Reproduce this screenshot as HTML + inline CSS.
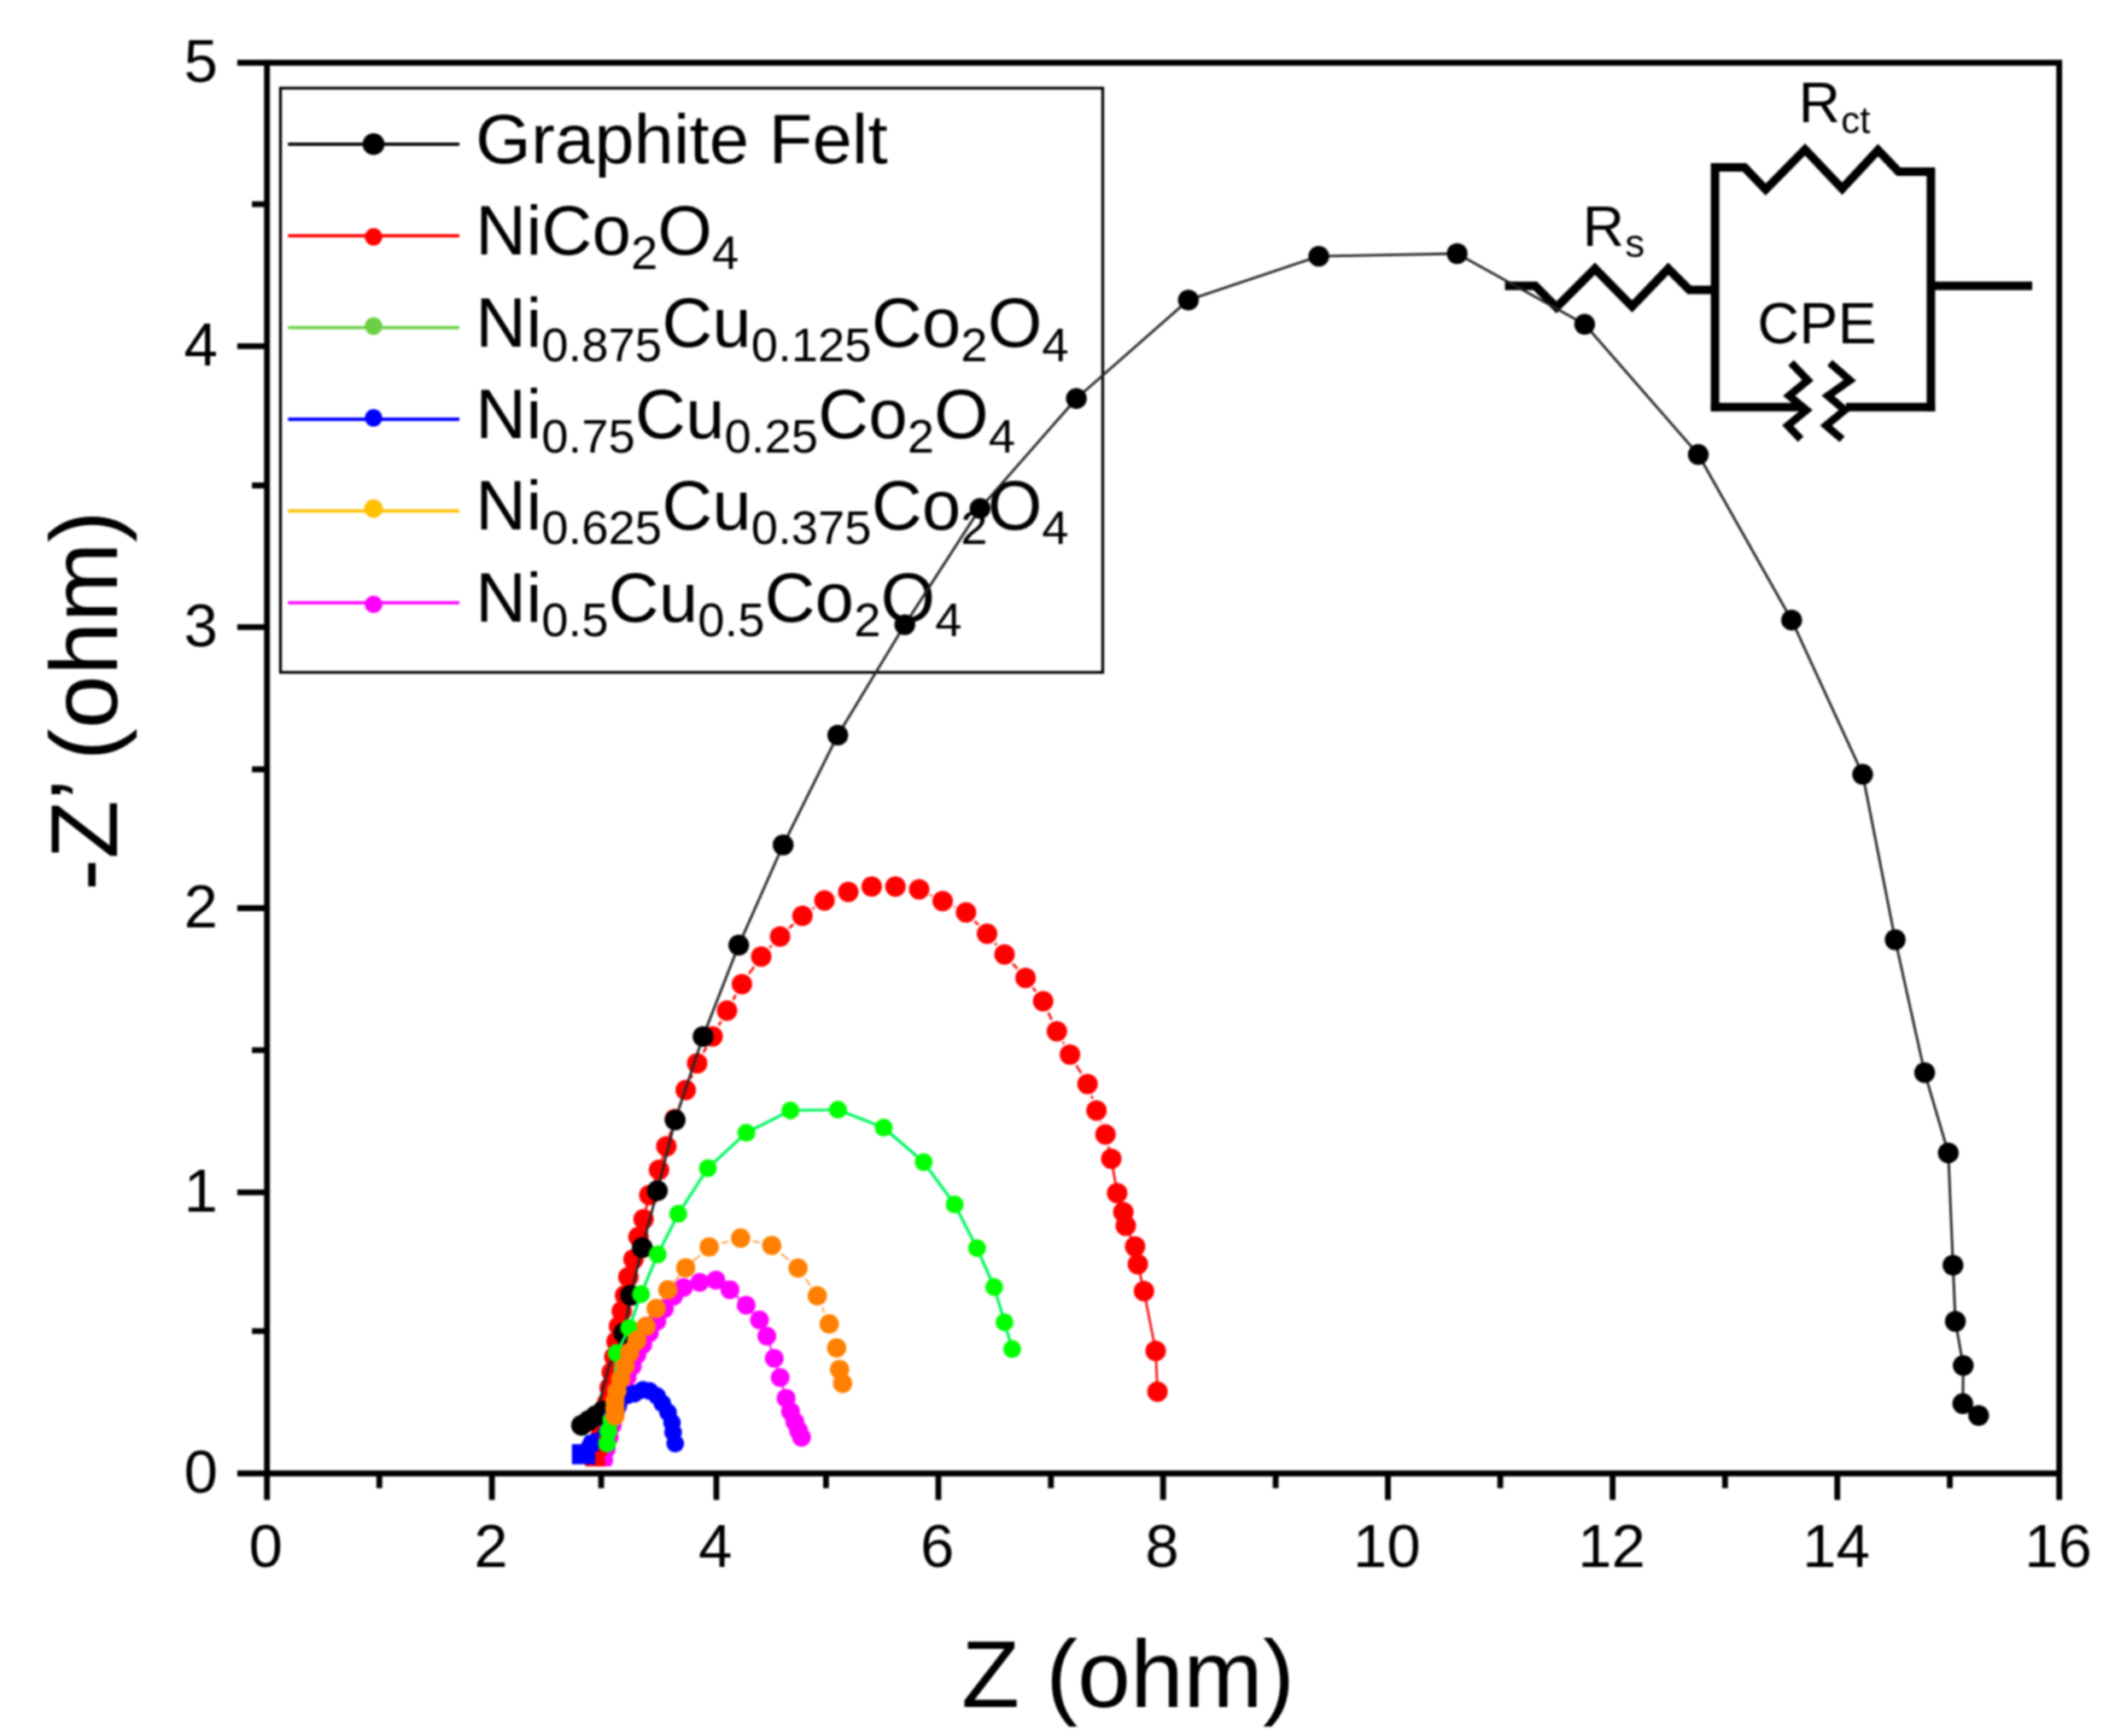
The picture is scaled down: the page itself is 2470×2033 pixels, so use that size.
<!DOCTYPE html>
<html lang="en"><head><meta charset="utf-8"><title>Nyquist plot</title>
<style>html,body{margin:0;padding:0;background:#fff}body{width:2470px;height:2033px;overflow:hidden}svg{display:block;filter:blur(0.9px)}text{font-family:"Liberation Sans",sans-serif;fill:#000}</style></head><body>
<svg width="2470" height="2033" viewBox="0 0 2470 2033">
<rect width="2470" height="2033" fill="#fff"/>
<g id="legend">
<rect x="328.5" y="103.2" width="963" height="684.2" fill="none" stroke="#000" stroke-width="3.3"/>
<line x1="337.3" y1="168.8" x2="538" y2="168.8" stroke="#000000" stroke-width="3.7"/>
<circle cx="437.5" cy="168.8" r="12.8" fill="#000000"/>
<text transform="translate(557,190.8) scale(1.0245,1)" font-size="81.5">Graphite Felt</text>
<line x1="337.3" y1="276.2" x2="538" y2="276.2" stroke="#ff0000" stroke-width="3.8"/>
<circle cx="437.5" cy="277.4" r="10.3" fill="#ff0000"/>
<text transform="translate(557,298.2) scale(1.005,1)" font-size="81.5">NiCo<tspan dy="17" font-size="56">2</tspan><tspan dy="-17" font-size="81.5">O</tspan><tspan dy="17" font-size="56">4</tspan></text>
<line x1="337.3" y1="383.6" x2="538" y2="383.6" stroke="#6cd046" stroke-width="3.8"/>
<circle cx="437.5" cy="381.9" r="10.3" fill="#6cd046"/>
<text transform="translate(557,405.6) scale(1.005,1)" font-size="81.5">Ni<tspan dy="17" font-size="56">0.875</tspan><tspan dy="-17" font-size="81.5">Cu</tspan><tspan dy="17" font-size="56">0.125</tspan><tspan dy="-17" font-size="81.5">Co</tspan><tspan dy="17" font-size="56">2</tspan><tspan dy="-17" font-size="81.5">O</tspan><tspan dy="17" font-size="56">4</tspan></text>
<line x1="337.3" y1="491" x2="538" y2="491" stroke="#0000ff" stroke-width="3.8"/>
<circle cx="437.5" cy="489.4" r="10.3" fill="#0000ff"/>
<text transform="translate(557,513) scale(1.005,1)" font-size="81.5">Ni<tspan dy="17" font-size="56">0.75</tspan><tspan dy="-17" font-size="81.5">Cu</tspan><tspan dy="17" font-size="56">0.25</tspan><tspan dy="-17" font-size="81.5">Co</tspan><tspan dy="17" font-size="56">2</tspan><tspan dy="-17" font-size="81.5">O</tspan><tspan dy="17" font-size="56">4</tspan></text>
<line x1="337.3" y1="598.4" x2="538" y2="598.4" stroke="#ffc000" stroke-width="3.8"/>
<circle cx="437.5" cy="595.6" r="10.8" fill="#ffc000"/>
<text transform="translate(557,620.4) scale(1.005,1)" font-size="81.5">Ni<tspan dy="17" font-size="56">0.625</tspan><tspan dy="-17" font-size="81.5">Cu</tspan><tspan dy="17" font-size="56">0.375</tspan><tspan dy="-17" font-size="81.5">Co</tspan><tspan dy="17" font-size="56">2</tspan><tspan dy="-17" font-size="81.5">O</tspan><tspan dy="17" font-size="56">4</tspan></text>
<line x1="337.3" y1="705.8" x2="538" y2="705.8" stroke="#ff00ff" stroke-width="3.8"/>
<circle cx="437.5" cy="707.7" r="10.3" fill="#ff00ff"/>
<text transform="translate(557,727.8) scale(1.005,1)" font-size="81.5">Ni<tspan dy="17" font-size="56">0.5</tspan><tspan dy="-17" font-size="81.5">Cu</tspan><tspan dy="17" font-size="56">0.5</tspan><tspan dy="-17" font-size="81.5">Co</tspan><tspan dy="17" font-size="56">2</tspan><tspan dy="-17" font-size="81.5">O</tspan><tspan dy="17" font-size="56">4</tspan></text>
</g>
<g id="circuit" fill="none" stroke="#000" stroke-width="10" stroke-linejoin="miter" stroke-miterlimit="10">
<path d="M1762.6 334.7 L1798 334.7 L1822.9 359.9 L1868 314.7 L1911.5 358.9 L1953.8 314.7 L1978.6 339.6 L2008.6 339.6"/>
<path d="M2008.6 481.6 L2008.6 196.1 L2043.1 196.1 L2067.9 221.9 L2114 175.1 L2157.5 220.9 L2199.5 175.8 L2223.6 200.9 L2261.4 200.9 L2261.4 481.6"/>
<path d="M2003.8 476.8 L2113 476.8 M2162 476.8 L2266.2 476.8"/>
<path d="M2261.4 334.7 L2380 334.7"/>
<path stroke-width="9" d="M2097.6 424.8 L2117.3 445.3 L2095.3 463.5 L2115.8 480.2 L2093.8 498.4 L2109 514.4"/>
<path stroke-width="9" d="M2143.1 424.8 L2166.6 445.3 L2140.8 463.5 L2160.6 480.2 L2138.6 498.4 L2157.5 514.4"/>
</g>
<text x="2106.6" y="142.8" font-size="67.5">R<tspan dx="1" dy="13.2" font-size="44">ct</tspan></text>
<text x="1853.4" y="287.9" font-size="67.5">R<tspan dx="1" dy="13.3" font-size="46">s</tspan></text>
<text x="2058.3" y="402.2" font-size="67.8">CPE</text>
<clipPath id="pc"><rect x="312.7" y="73.5" width="2099" height="1643.8"/></clipPath>
<g id="series" clip-path="url(#pc)">
<g id="s-magenta">
<path d="M938.7 1683.2 L935.3 1675.4 L930.9 1665 L925.8 1652.9 L920.6 1637.4 L913.7 1613.2 L906.8 1590.7 L898.1 1564.8 L889.5 1545.8 L873.9 1528.5 L854.9 1510.4 L838.5 1499.1 L819.5 1501.7 L800.5 1507.8 L788.9 1518 L778.1 1532.6 L769.3 1547.3 L760.5 1561 L752.7 1574.8 L745.8 1586.5 L740.5 1600 L734.5 1613 L729 1627 L724.5 1641 L720.5 1655 L717 1669 L713.5 1683 L710 1697 L707 1710" fill="none" stroke="#ff00ff" stroke-width="2.0" stroke-linejoin="round"/>
<g fill="#ff00ff"><circle cx="938.7" cy="1683.2" r="11.0"/><circle cx="935.3" cy="1675.4" r="11.0"/><circle cx="930.9" cy="1665" r="11.0"/><circle cx="925.8" cy="1652.9" r="11.0"/><circle cx="920.6" cy="1637.4" r="11.0"/><circle cx="913.7" cy="1613.2" r="11.0"/><circle cx="906.8" cy="1590.7" r="11.0"/><circle cx="898.1" cy="1564.8" r="11.0"/><circle cx="889.5" cy="1545.8" r="11.0"/><circle cx="873.9" cy="1528.5" r="11.0"/><circle cx="854.9" cy="1510.4" r="11.0"/><circle cx="838.5" cy="1499.1" r="11.0"/><circle cx="819.5" cy="1501.7" r="11.0"/><circle cx="800.5" cy="1507.8" r="11.0"/><circle cx="788.9" cy="1518" r="11.0"/><circle cx="778.1" cy="1532.6" r="11.0"/><circle cx="769.3" cy="1547.3" r="11.0"/><circle cx="760.5" cy="1561" r="11.0"/><circle cx="752.7" cy="1574.8" r="11.0"/><circle cx="745.8" cy="1586.5" r="11.0"/><circle cx="740.5" cy="1600" r="11.0"/><circle cx="734.5" cy="1613" r="11.0"/><circle cx="729" cy="1627" r="11.0"/><circle cx="724.5" cy="1641" r="11.0"/><circle cx="720.5" cy="1655" r="11.0"/><circle cx="717" cy="1669" r="11.0"/><circle cx="713.5" cy="1683" r="11.0"/><circle cx="710" cy="1697" r="11.0"/><circle cx="707" cy="1710" r="11.0"/></g>
</g>
<g id="s-red">
<path d="M1355.6 1629.8 L1353.5 1581.9 L1339.8 1512.1 L1332.6 1480.6 L1329.4 1459.7 L1318.5 1435.5 L1315.6 1419.4 L1308.4 1397.2 L1301.5 1356.9 L1294.7 1328.6 L1284.2 1300.4 L1273.7 1269.4 L1253.1 1235.1 L1237.8 1207.7 L1221.7 1172.6 L1201.1 1145.2 L1176.5 1117.7 L1156 1093.5 L1131.4 1068.5 L1104 1055.2 L1076.5 1041.5 L1048.7 1038.3 L1020.9 1038.3 L993.5 1044.4 L965.6 1054.4 L939.8 1072.6 L913.6 1096.8 L891.5 1120.2 L868.9 1152.4 L851.5 1183.5 L834.6 1213.7 L816.5 1245.2 L803.1 1276.6 L790.2 1310.5 L780.4 1342.6 L771.8 1369.9 L760.5 1399.4 L753.7 1427.8 L747.8 1448.4 L741.9 1474.8 L736 1495.4 L732.1 1517 L728.2 1535.6 L725 1553 L722 1571 L719.5 1589 L716.5 1607 L714 1625 L711 1643 L707.5 1661 L704 1679 L700.5 1697 L697 1714" fill="none" stroke="#ff1010" stroke-width="2.8" stroke-linejoin="round"/>
<g fill="#fff"><circle cx="1294.7" cy="1328.6" r="14.6"/><circle cx="1284.2" cy="1300.4" r="14.6"/><circle cx="1273.7" cy="1269.4" r="14.6"/><circle cx="1253.1" cy="1235.1" r="14.6"/><circle cx="1237.8" cy="1207.7" r="14.6"/><circle cx="1221.7" cy="1172.6" r="14.6"/><circle cx="1201.1" cy="1145.2" r="14.6"/><circle cx="1176.5" cy="1117.7" r="14.6"/><circle cx="1156" cy="1093.5" r="14.6"/><circle cx="1131.4" cy="1068.5" r="14.6"/><circle cx="1104" cy="1055.2" r="14.6"/><circle cx="1076.5" cy="1041.5" r="14.6"/><circle cx="1048.7" cy="1038.3" r="14.6"/><circle cx="1020.9" cy="1038.3" r="14.6"/><circle cx="993.5" cy="1044.4" r="14.6"/><circle cx="965.6" cy="1054.4" r="14.6"/><circle cx="939.8" cy="1072.6" r="14.6"/><circle cx="913.6" cy="1096.8" r="14.6"/><circle cx="891.5" cy="1120.2" r="14.6"/><circle cx="868.9" cy="1152.4" r="14.6"/><circle cx="851.5" cy="1183.5" r="14.6"/><circle cx="834.6" cy="1213.7" r="14.6"/><circle cx="816.5" cy="1245.2" r="14.6"/><circle cx="803.1" cy="1276.6" r="14.6"/><circle cx="790.2" cy="1310.5" r="14.6"/></g>
<g fill="#ff0000"><circle cx="1355.6" cy="1629.8" r="12.0"/><circle cx="1353.5" cy="1581.9" r="12.0"/><circle cx="1339.8" cy="1512.1" r="12.0"/><circle cx="1332.6" cy="1480.6" r="12.0"/><circle cx="1329.4" cy="1459.7" r="12.0"/><circle cx="1318.5" cy="1435.5" r="12.0"/><circle cx="1315.6" cy="1419.4" r="12.0"/><circle cx="1308.4" cy="1397.2" r="12.0"/><circle cx="1301.5" cy="1356.9" r="12.0"/><circle cx="1294.7" cy="1328.6" r="12.0"/><circle cx="1284.2" cy="1300.4" r="12.0"/><circle cx="1273.7" cy="1269.4" r="12.0"/><circle cx="1253.1" cy="1235.1" r="12.0"/><circle cx="1237.8" cy="1207.7" r="12.0"/><circle cx="1221.7" cy="1172.6" r="12.0"/><circle cx="1201.1" cy="1145.2" r="12.0"/><circle cx="1176.5" cy="1117.7" r="12.0"/><circle cx="1156" cy="1093.5" r="12.0"/><circle cx="1131.4" cy="1068.5" r="12.0"/><circle cx="1104" cy="1055.2" r="12.0"/><circle cx="1076.5" cy="1041.5" r="12.0"/><circle cx="1048.7" cy="1038.3" r="12.0"/><circle cx="1020.9" cy="1038.3" r="12.0"/><circle cx="993.5" cy="1044.4" r="12.0"/><circle cx="965.6" cy="1054.4" r="12.0"/><circle cx="939.8" cy="1072.6" r="12.0"/><circle cx="913.6" cy="1096.8" r="12.0"/><circle cx="891.5" cy="1120.2" r="12.0"/><circle cx="868.9" cy="1152.4" r="12.0"/><circle cx="851.5" cy="1183.5" r="12.0"/><circle cx="834.6" cy="1213.7" r="12.0"/><circle cx="816.5" cy="1245.2" r="12.0"/><circle cx="803.1" cy="1276.6" r="12.0"/><circle cx="790.2" cy="1310.5" r="12.0"/><circle cx="780.4" cy="1342.6" r="12.0"/><circle cx="771.8" cy="1369.9" r="12.0"/><circle cx="760.5" cy="1399.4" r="12.0"/><circle cx="753.7" cy="1427.8" r="12.0"/><circle cx="747.8" cy="1448.4" r="12.0"/><circle cx="741.9" cy="1474.8" r="12.0"/><circle cx="736" cy="1495.4" r="12.0"/><circle cx="732.1" cy="1517" r="12.0"/><circle cx="728.2" cy="1535.6" r="12.0"/><circle cx="725" cy="1553" r="12.0"/><circle cx="722" cy="1571" r="12.0"/><circle cx="719.5" cy="1589" r="12.0"/><circle cx="716.5" cy="1607" r="12.0"/><circle cx="714" cy="1625" r="12.0"/><circle cx="711" cy="1643" r="12.0"/><circle cx="707.5" cy="1661" r="12.0"/><circle cx="704" cy="1679" r="12.0"/><circle cx="700.5" cy="1697" r="12.0"/><circle cx="697" cy="1714" r="12.0"/></g>
</g>
<g id="s-black">
<path d="M681.1 1669.2 L689.4 1663.6 L697.7 1657.9 L705.9 1652.4 L703.1 1638.4 L713.4 1599.2 L730.6 1561 L738.5 1517 L752.2 1461.1 L769.9 1394.4 L790.8 1311.6 L823.4 1213.9 L865.2 1106.8 L917.2 989.5 L981.2 860.9 L1059.7 731.6 L1147.8 595.4 L1260.6 466.7 L1391.8 351.4 L1544.5 300.1 L1706.6 297 L1855.9 379.8 L1989 532.3 L2098.3 726.2 L2181.5 906.8 L2219.6 1100.5 L2254.1 1256.2 L2281.8 1350.2 L2287.3 1481.6 L2290.1 1547.5 L2299.3 1599.1 L2298.8 1643.8 L2317.3 1657.6" fill="none" stroke="#242424" stroke-width="2.9" stroke-linejoin="round"/>
<g fill="#000000"><circle cx="681.1" cy="1669.2" r="12.2"/><circle cx="689.4" cy="1663.6" r="12.2"/><circle cx="697.7" cy="1657.9" r="12.2"/><circle cx="705.9" cy="1652.4" r="12.2"/><circle cx="730.6" cy="1561" r="12.2"/><circle cx="738.5" cy="1517" r="12.2"/><circle cx="752.2" cy="1461.1" r="12.2"/><circle cx="769.9" cy="1394.4" r="12.2"/><circle cx="790.8" cy="1311.6" r="12.2"/><circle cx="823.4" cy="1213.9" r="12.2"/><circle cx="865.2" cy="1106.8" r="12.2"/><circle cx="917.2" cy="989.5" r="12.2"/><circle cx="981.2" cy="860.9" r="12.2"/><circle cx="1059.7" cy="731.6" r="12.2"/><circle cx="1147.8" cy="595.4" r="12.2"/><circle cx="1260.6" cy="466.7" r="12.2"/><circle cx="1391.8" cy="351.4" r="12.2"/><circle cx="1544.5" cy="300.1" r="12.2"/><circle cx="1706.6" cy="297" r="12.2"/><circle cx="1855.9" cy="379.8" r="12.2"/><circle cx="1989" cy="532.3" r="12.2"/><circle cx="2098.3" cy="726.2" r="12.2"/><circle cx="2181.5" cy="906.8" r="12.2"/><circle cx="2219.6" cy="1100.5" r="12.2"/><circle cx="2254.1" cy="1256.2" r="12.2"/><circle cx="2281.8" cy="1350.2" r="12.2"/><circle cx="2287.3" cy="1481.6" r="12.2"/><circle cx="2290.1" cy="1547.5" r="12.2"/><circle cx="2299.3" cy="1599.1" r="12.2"/><circle cx="2298.8" cy="1643.8" r="12.2"/><circle cx="2317.3" cy="1657.6" r="12.2"/></g>
</g>
<g id="s-blue">
<path d="M790.8 1690.6 L788.3 1677.5 L787 1666 L782.4 1654 L775.6 1643.3 L769.7 1635 L760.9 1628.8 L753 1627.6 L743.3 1632 L735 1634 L724 1647 L716 1660 L711 1676" fill="none" stroke="#0000ff" stroke-width="2.0" stroke-linejoin="round"/>
<g fill="#0000ff"><circle cx="790.8" cy="1690.6" r="10.4"/><circle cx="788.3" cy="1677.5" r="10.4"/><circle cx="787" cy="1666" r="10.4"/><circle cx="782.4" cy="1654" r="10.4"/><circle cx="775.6" cy="1643.3" r="10.4"/><circle cx="769.7" cy="1635" r="10.4"/><circle cx="760.9" cy="1628.8" r="10.4"/><circle cx="753" cy="1627.6" r="10.4"/><circle cx="743.3" cy="1632" r="10.4"/><circle cx="735" cy="1634" r="10.4"/><circle cx="724" cy="1647" r="10.4"/><circle cx="716" cy="1660" r="10.4"/><circle cx="711" cy="1676" r="10.4"/></g>
<path d="M669.8 1691.2 L680.6 1691.2 L685.5 1681.4 L701.1 1677 L701.1 1700 L697.2 1700 L697.2 1714.7 L669.8 1714.7 Z" fill="#0000ff"/>
</g>
<g id="s-green">
<path d="M1185.4 1579.8 L1176.5 1548.4 L1164.4 1507.3 L1144.3 1461.7 L1118.1 1410.5 L1081.8 1360.9 L1035 1320.6 L981.4 1299.6 L925.7 1300.4 L874.1 1326.6 L829 1368.1 L794.3 1421.5 L770.3 1469 L750.7 1515.5 L737 1555.2 L722.3 1584.5 L716 1663 L712.5 1676 L711 1690.6" fill="none" stroke="#00f860" stroke-width="3.4" stroke-linejoin="round"/>
<g fill="#00ff00"><circle cx="1185.4" cy="1579.8" r="10.5"/><circle cx="1176.5" cy="1548.4" r="10.5"/><circle cx="1164.4" cy="1507.3" r="10.5"/><circle cx="1144.3" cy="1461.7" r="10.5"/><circle cx="1118.1" cy="1410.5" r="10.5"/><circle cx="1081.8" cy="1360.9" r="10.5"/><circle cx="1035" cy="1320.6" r="10.5"/><circle cx="981.4" cy="1299.6" r="10.5"/><circle cx="925.7" cy="1300.4" r="10.5"/><circle cx="874.1" cy="1326.6" r="10.5"/><circle cx="829" cy="1368.1" r="10.5"/><circle cx="794.3" cy="1421.5" r="10.5"/><circle cx="770.3" cy="1469" r="10.5"/><circle cx="750.7" cy="1515.5" r="10.5"/><circle cx="737" cy="1555.2" r="10.5"/><circle cx="722.3" cy="1584.5" r="10.5"/><circle cx="716" cy="1663" r="10.5"/><circle cx="712.5" cy="1676" r="10.5"/><circle cx="711" cy="1690.6" r="10.5"/></g>
</g>
<g id="s-orange">
<path d="M986.8 1620.1 L983.3 1603.7 L979.8 1578.6 L971.2 1550.4 L957.2 1517.6 L934.7 1485 L903.8 1458.5 L867.4 1449.9 L830.6 1460.2 L803.1 1484.8 L782.2 1510.5 L768.4 1532.4 L756.6 1553.2 L745.8 1569.9 L737.3 1584.5 L732 1600 L727 1615 L722.5 1629 L720.2 1641 L720.2 1650 L720.2 1658" fill="none" stroke="#ff9a30" stroke-width="1.8" stroke-linejoin="round"/>
<g fill="#fff"><circle cx="986.8" cy="1620.1" r="14.700000000000001"/><circle cx="983.3" cy="1603.7" r="14.700000000000001"/><circle cx="979.8" cy="1578.6" r="14.700000000000001"/><circle cx="971.2" cy="1550.4" r="14.700000000000001"/><circle cx="957.2" cy="1517.6" r="14.700000000000001"/><circle cx="934.7" cy="1485" r="14.700000000000001"/><circle cx="903.8" cy="1458.5" r="14.700000000000001"/><circle cx="867.4" cy="1449.9" r="14.700000000000001"/><circle cx="830.6" cy="1460.2" r="14.700000000000001"/></g>
<g fill="#ff8000"><circle cx="986.8" cy="1620.1" r="11.3"/><circle cx="983.3" cy="1603.7" r="11.3"/><circle cx="979.8" cy="1578.6" r="11.3"/><circle cx="971.2" cy="1550.4" r="11.3"/><circle cx="957.2" cy="1517.6" r="11.3"/><circle cx="934.7" cy="1485" r="11.3"/><circle cx="903.8" cy="1458.5" r="11.3"/><circle cx="867.4" cy="1449.9" r="11.3"/><circle cx="830.6" cy="1460.2" r="11.3"/><circle cx="803.1" cy="1484.8" r="11.3"/><circle cx="782.2" cy="1510.5" r="11.3"/><circle cx="768.4" cy="1532.4" r="11.3"/><circle cx="756.6" cy="1553.2" r="11.3"/><circle cx="745.8" cy="1569.9" r="11.3"/><circle cx="737.3" cy="1584.5" r="11.3"/><circle cx="732" cy="1600" r="11.3"/><circle cx="727" cy="1615" r="11.3"/><circle cx="722.5" cy="1629" r="11.3"/><circle cx="720.2" cy="1641" r="11.3"/><circle cx="720.2" cy="1650" r="11.3"/><circle cx="720.2" cy="1658" r="11.3"/></g>
</g>
</g>
<g id="axes" stroke="#000" stroke-width="6.8" fill="none" stroke-linecap="butt">
<path d="M277.9 73.5 L2415.1 73.5 M277.9 1725.5 L2415.1 1725.5 M312.7 70.1 L312.7 1756.5 M2411.7 70.1 L2411.7 1756.5"/>
<path d="M444.3 1725.5 L444.3 1742.7 M576.1 1725.5 L576.1 1756.5 M704.1 1725.5 L704.1 1742.7 M839 1725.5 L839 1756.5 M967.4 1725.5 L967.4 1742.7 M1099 1725.5 L1099 1756.5 M1230.8 1725.5 L1230.8 1742.7 M1362.2 1725.5 L1362.2 1756.5 M1494 1725.5 L1494 1742.7 M1625.5 1725.5 L1625.5 1756.5 M1757.1 1725.5 L1757.1 1742.7 M1888.6 1725.5 L1888.6 1756.5 M2020.3 1725.5 L2020.3 1742.7 M2151.8 1725.5 L2151.8 1756.5 M2283.6 1725.5 L2283.6 1742.7 M312.7 1558.8 L295.1 1558.8 M312.7 1396.4 L277.9 1396.4 M312.7 1229.8 L295.1 1229.8 M312.7 1063.5 L277.9 1063.5 M312.7 901 L295.1 901 M312.7 734.4 L277.9 734.4 M312.7 568.5 L295.1 568.5 M312.7 405.3 L277.9 405.3 M312.7 239.1 L295.1 239.1"/>
</g>
<g id="xticks" font-size="71" text-anchor="middle">
<text x="311.3" y="1835">0</text>
<text x="574.9" y="1835">2</text>
<text x="837.8" y="1835">4</text>
<text x="1097.8" y="1835">6</text>
<text x="1361" y="1835">8</text>
<text x="1624.3" y="1835">10</text>
<text x="1887.4" y="1835">12</text>
<text x="2150.6" y="1835">14</text>
<text x="2410.5" y="1835">16</text>
</g>
<g id="yticks" font-size="71" text-anchor="end">
<text x="255" y="1748">0</text>
<text x="255" y="1418.9">1</text>
<text x="255" y="1086">2</text>
<text x="255" y="756.9">3</text>
<text x="255" y="427.8">4</text>
<text x="255" y="96">5</text>
</g>
<text x="1321" y="1998.7" font-size="111.5" text-anchor="middle">Z (ohm)</text>
<text transform="translate(136.6,1043) rotate(-90)" font-size="112">-Z’ <tspan dx="-5">(ohm)</tspan></text>
</svg></body></html>
